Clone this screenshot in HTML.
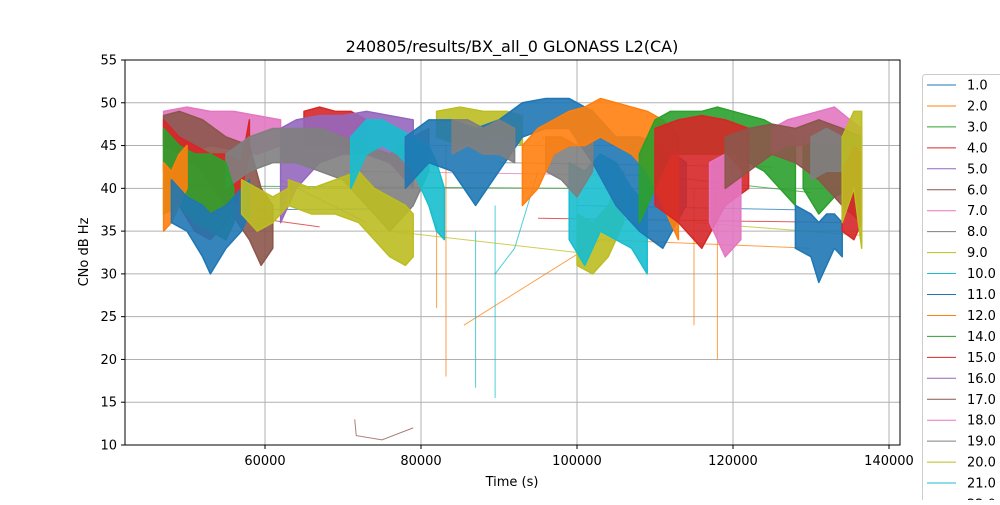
<!DOCTYPE html>
<html><head><meta charset="utf-8">
<style>
body{margin:0;background:#fff;font-family:"Liberation Sans","DejaVu Sans",sans-serif;}
svg text{font-family:"DejaVu Sans","Liberation Sans",sans-serif;}
</style></head>
<body>
<svg id="chart" width="1000" height="500" viewBox="0 0 1000 500" xmlns="http://www.w3.org/2000/svg">
<rect width="1000" height="500" fill="#fff"/>
<g id="grid"></g>
<g id="plot"></g>
<rect x="125" y="60" width="775" height="385" fill="none" stroke="#000" stroke-width="1"/>
<g id="axes"></g>
<text x="512" y="52" font-size="16" text-anchor="middle">240805/results/BX_all_0 GLONASS L2(CA)</text>
<text x="512" y="486" font-size="13" text-anchor="middle">Time (s)</text>
<text transform="translate(88,252) rotate(-90)" font-size="13" text-anchor="middle">CNo dB Hz</text>
<g id="legend"></g>
</svg>
<script>
const xTicks=[60000,80000,100000,120000,140000];
const yTicks=[10,15,20,25,30,35,40,45,50,55];
const legendLabels=["1.0","2.0","3.0","4.0","5.0","6.0","7.0","8.0","9.0","10.0","11.0","12.0","14.0","15.0","16.0","17.0","18.0","19.0","20.0","21.0","22.0"];
const palette=["#1f77b4","#ff7f0e","#2ca02c","#d62728","#9467bd","#8c564b","#e377c2","#7f7f7f","#bcbd22","#17becf"];
// bands: color index, time (ks), upper and lower envelope (dB-Hz)
const bandColor=[6,5,3,3,4,7,2,1,0,8,8,8,8,9,9,0,7,7,1,2,2,3,6,6,5,7,0,3,8];
const bandT=[
[47,50,53,56,59,62],[47,49,52,55,58,59.5,61],[47,49,51,53,55,57,58],[65,67,69,71,73],
[62,64,67,70,73,76,79],[55,58,61,64,67,70,73,76,79,81],[47,49,51,53,55,56],[47,48,49,50],
[48,50,52,53,55,57,58],[57,59,61,63],[63,66,69,72,74,76,78,79],[82,85,88,91,93],[100,102,104,106],
[71,73,75,77,79,81,82,83],[99,101,103,105,107,109],
[78,81,84,87,90,93,96,99,102,105,108,111,114],[84,86,88,90,92],[96,98,100,102],
[93,95,97,99,101,103,105,107,109,111,113],
[108,110,112,114,116,118,120,122,124,126,128],[129,131,133,135,136.5],
[110,113,116,119,122],[117,119,121],[125,127,129,131,133,135,136.5],
[119,122,125,128,131,134,136.5],[130,132,134,136.5],[128,130,131,132,133,134],[134,135.5,136.5],[134,135.5,136.5]];
const bandHi=[
[49,49.5,49,49,48.5,48],[48.5,49,48,46,45,40,38],[48,46,45,44,44,43,48],[49,49.5,49,49,48],
[47,48,48.5,48.5,49,48.5,48],[44,46,47,47,47,46,45,44,46,47],[47,45,44,44,43,40],[43,42,44,45],
[41,39,38,37,38,40,41],[41,40,39,40],[41,40,41,42,40,39,38,37],[49,49.5,49,49,48.5],[37,36,38,42],
[46,48,48,47,46,45,43,40],[43,42,44,43,40,38],
[46,48,48,47,48,50,50.5,50.5,49,46,46,45,43],[48,48,47,48,47],[46,46,45,46],
[45,47,48,49,49.5,50.5,50,49.5,49,48,46],
[44,48,49,49,49,49.5,49,48.5,48,47,46],[46,45,45,45,44],
[47,48,48.5,48,47],[43,44,42],[47,48,48.5,49,49.5,48,47],
[46,47,47.5,47,48,47,46],[46,47,46,46],[38,37,36,37,37,36],[42,45,44],[46,49,49]];
const bandLo=[
[45,44,45,44.5,44,45],[45,44,42,38,34,31,33],[42,38,35,34,36,40,44],[45,45,45,44.5,44],
[36,40,43,44,44,43,40],[40,42,43,43,42,41,38,35,38,42],[37,38,36,35,34,36],[35,36,38,40],
[36,35,32,30,33,35,37],[37,35,36,38],[38,37,37,36,34,32,31,32],[46,45,46,46,45],[31,30,32,36],
[40,44,45,44,42,38,35,34],[34,31,35,34,33,30],
[40,43,42,38,42,46,47,47,43,38,35,33,38],[44,45,44,44,43],[42,41,39,42],
[38,40,44,45,45,46,45,44,42,38,34],
[36,40,44,44,44,44,44,43,42,40,38],[40,37,39,40,37],
[38,36,33,38,40],[36,32,34],[44,45,45,46,46,45,43],
[40,42,44,43,41,38,36],[41,42,42,41],[33,32,29,31,33,32],[35,34,36],[36,40,33]];
// thin connecting lines
const lineColor=[1,1,1,1,1,9,9,9,8,8,5,0,3,2,2,4,6,7,0,3];
const lineT=[[85.5,103,130],[83.2,83.2],[115,115],[118,118],[82,82],[87,87],[89.5,89.5],[89.5,92,95],[76,100],[115,136.5],[71.5,71.7,75,79],[58,75],[51,67],[49,100],[110,130],[62,73],[70,110],[90,125],[100,128],[95,134]];
const lineV=[[24,34,33],[45,18],[40,24],[40,20],[36,26],[35,16.7],[38,15.5],[30,33,42],[35,32.5],[36,34.5],[13,11.1,10.6,12],[37.5,37.6],[37.5,35.5],[40.3,40],[41.5,39.5],[41,36],[42,41.5],[43,42.5],[38,37.5],[36.5,36]];

const NS="http://www.w3.org/2000/svg";
const X0=42051,PX0=125,SX=0.0078;
function xs(t){return PX0+(t-X0)*SX;}
function ys(v){return 445-(v-10)*(385/45);}
function mk(tag,attrs,parent){const e=document.createElementNS(NS,tag);for(const k in attrs)e.setAttribute(k,attrs[k]);parent.appendChild(e);return e;}
const grid=document.getElementById('grid'),axes=document.getElementById('axes'),plot=document.getElementById('plot'),leg=document.getElementById('legend');
xTicks.forEach(v=>{const x=xs(v);
 const g=mk('line',{x1:x,x2:x,y1:60,y2:445,stroke:'#b0b0b0','stroke-width':1},grid);
 
 
 mk('line',{x1:x,x2:x,y1:445,y2:449,stroke:'#000'},axes);
 const t=mk('text',{x:x,y:465,'font-size':13,'text-anchor':'middle'},axes);t.textContent=v;
 
 
});
yTicks.forEach(v=>{const y=ys(v);
 const g=mk('line',{x1:125,x2:900,y1:y,y2:y,stroke:'#b0b0b0','stroke-width':1},grid);
 
 
 mk('line',{x1:121,x2:125,y1:y,y2:y,stroke:'#000'},axes);
 const t=mk('text',{x:117,y:y+4.5,'font-size':13,'text-anchor':'end'},axes);t.textContent=v;
 
 
});
lineT.forEach((ts,i)=>{
 const pts=ts.map((t,j)=>xs(t*1000)+','+ys(lineV[i][j])).join(' ');
 const p=mk('polyline',{points:pts,fill:'none',stroke:palette[lineColor[i]],'stroke-width':1,opacity:0.75},plot);
 
 
});
bandT.forEach((ts,i)=>{
 const up=ts.map((t,j)=>xs(t*1000)+','+ys(bandHi[i][j]));
 const dn=ts.map((t,j)=>xs(t*1000)+','+ys(bandLo[i][j])).reverse();
 const p=mk('polygon',{points:up.concat(dn).join(' '),fill:palette[bandColor[i]],'fill-opacity':0.9,stroke:palette[bandColor[i]],'stroke-width':1.5,'stroke-linejoin':'round'},plot);
 
 
});
const lb=mk('rect',{x:922.5,y:74.5,width:90,height:450,fill:'#fff',stroke:'#ccc',rx:3},leg);


legendLabels.forEach((s,i)=>{const y=85+i*20.95;
 const g=mk('g',{},leg);
 
 
 mk('line',{x1:927,x2:956,y1:y,y2:y,stroke:palette[i%10],'stroke-width':1},g);
 const t=mk('text',{x:967,y:y+4.5,'font-size':13},g);t.textContent=s;
});
</script>
</body></html>
